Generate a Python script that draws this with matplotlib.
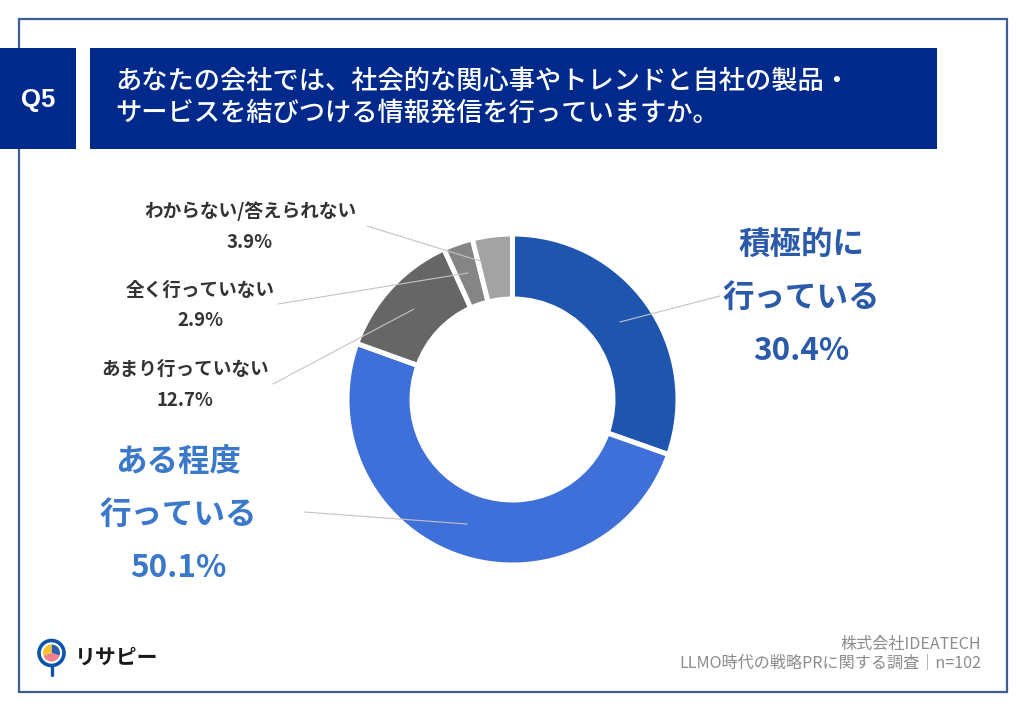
import matplotlib
matplotlib.use("Agg")
import matplotlib.pyplot as plt
from matplotlib.patches import Rectangle, Circle

plt.rcParams['font.family'] = ['Noto Sans CJK JP', 'DejaVu Sans']

# chart data
categories = ['積極的に\n行っている', 'ある程度\n行っている', 'あまり行っていない', '全く行っていない', 'わからない/答えられない']
values = [30.4, 50.1, 12.7, 2.9, 3.9]
colors = ['#1F55AE', '#3F6FD8', '#666666', '#858585', '#A3A3A3']
value_labels = ['30.4%', '50.1%', '12.7%', '2.9%', '3.9%']

title_lines = ['あなたの会社では、社会的な関心事やトレンドと自社の製品・',
               'サービスを結びつける情報発信を行っていますか。']
source_lines = ['株式会社IDEATECH', 'LLMO時代の戦略PRに関する調査｜n=102']

W, H = 1024, 709
fig = plt.figure(figsize=(W / 100, H / 100), dpi=100, facecolor='white')

# donut, placed in its own axes (centre 512.5,399.5 in pixels)
cx, cy, r = 512.5, 399.5, 165.5
ax_pie = fig.add_axes([(cx - r) / W, 1 - (cy + r) / H, 2 * r / W, 2 * r / H])
ax_pie.pie(values, colors=colors, startangle=90, counterclock=False, radius=1,
           wedgeprops=dict(width=65 / r, edgecolor='white', linewidth=3.6))
ax_pie.set_xlim(-1, 1)
ax_pie.set_ylim(-1, 1)

# everything else is laid out in pixel coordinates
ax = fig.add_axes([0, 0, 1, 1], facecolor='none')
ax.set_xlim(0, W)
ax.set_ylim(H, 0)
ax.axis('off')

# outer frame
ax.add_patch(Rectangle((18.5, 18.5), 988, 673, fill=False, edgecolor='#3F5C94', linewidth=1.6))

# header
navy = '#00298C'
ax.add_patch(Rectangle((0, 48), 75.5, 101, color=navy, lw=0))
ax.add_patch(Rectangle((89.5, 48), 847.5, 101, color=navy, lw=0))
ax.text(38, 100, 'Q5', color='white', fontsize=18.5, fontweight='bold', ha='center', va='center',
        family=['Liberation Sans', 'DejaVu Sans'])
ax.text(115, 81, title_lines[0], color='white', fontsize=18.9, fontweight='medium', ha='left', va='center')
ax.text(115, 113, title_lines[1], color='white', fontsize=18.9, fontweight='medium', ha='left', va='center')

# leader lines
leaders = [((720, 296), (620, 322)), ((304, 512), (467, 524)), ((273, 384), (414, 309)),
           ((278, 304), (468, 273)), ((367, 226), (480, 261))]
for a, b in leaders:
    ax.plot([a[0], b[0]], [a[1], b[1]], color='#C4C4C4', lw=0.8, solid_capstyle='round')

# big labels
blue1 = '#2B5BA8'
blue2 = '#3A78C9'
for txt, y in zip(['積極的に', '行っている', value_labels[0]], [245, 298, 351]):
    ax.text(801, y, txt, color=blue1, fontsize=22.7, fontweight='bold', ha='center', va='center')
for txt, y in zip(['ある程度', '行っている', value_labels[1]], [462, 515, 568]):
    ax.text(178, y, txt, color=blue2, fontsize=22.7, fontweight='bold', ha='center', va='center')

# small labels
small_pos = {2: (185, 369, 400), 3: (200, 290, 321), 4: (250, 211, 243)}
for i, (x, y1, y2) in small_pos.items():
    ax.text(x, y1, categories[i], color='#333333', fontsize=13.4, fontweight='bold', ha='center', va='center')
    ax.text(x, y2, value_labels[i], color='#333333', fontsize=13.4, fontweight='bold', ha='center', va='center')

# source
ax.text(981, 644, source_lines[0], color='#8C8C8C', fontsize=11.6, ha='right', va='center')
ax.text(981, 664, source_lines[1], color='#8C8C8C', fontsize=11.6, ha='right', va='center')

# logo
ax.plot([51.5, 51.5], [666, 675], color='#0B55A8', lw=2.4, solid_capstyle='round')
ax.add_patch(Circle((51.5, 653), 12.5, facecolor='white', edgecolor='#0B55A8', lw=2.6))
ax_logo = fig.add_axes([(51.5 - 8.5) / W, 1 - (653 + 8.5) / H, 17 / W, 17 / H])
ax_logo.pie([30, 40, 30], colors=['#2E5FA8', '#EE7F8E', '#F5C32C'], startangle=90, counterclock=False, radius=1)
ax_logo.set_xlim(-1, 1)
ax_logo.set_ylim(-1, 1)
ax.text(75, 657, 'リサピー', color='#1A1A1A', fontsize=15, fontweight='bold', ha='left', va='center')

fig.savefig('out.png', dpi=100)
